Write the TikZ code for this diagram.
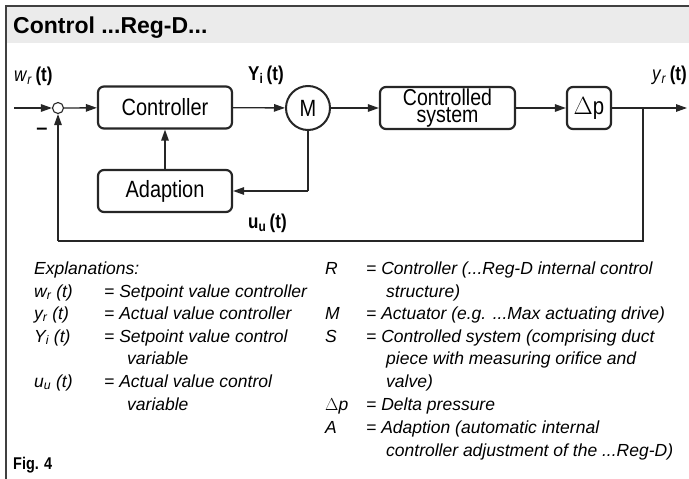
\documentclass[tikz,border=0pt]{standalone}
\usepackage{fontspec}
\setmainfont{Liberation Sans}
\newfontfamily\narrowf[FakeStretch=0.85]{Liberation Sans}
\usetikzlibrary{arrows.meta}
\begin{document}
\begin{tikzpicture}[x=1pt,y=-1pt,
  blk/.style={draw=black!85, line width=2.2pt, rounded corners=6pt, minimum height=42pt, inner sep=0pt, align=center, font=\narrowf\fontsize{23.5}{18}\selectfont},
  conn/.style={draw=black!85, line width=1.3pt},
  arr/.style={conn, -{Triangle[length=11pt,width=7.5pt]}},
  lbl/.style={anchor=base west, inner sep=0pt, font=\narrowf\fontsize{20}{20}\selectfont},
  expl/.style={anchor=base west, inner sep=0pt, font=\fontsize{17.5}{17.5}\selectfont\itshape}]
\useasboundingbox (0,0) rectangle (689,479);
% header and frame
\fill[black!8] (7,7) rectangle (689,43);
\draw[black!75, line width=1.8pt] (6,479) -- (6,6) -- (689,6);
\node[anchor=base west, inner sep=0pt, font=\fontsize{23}{23}\selectfont\bfseries] (title) at (13,33) {Control ...Reg-D...};
% blocks
\coordinate (in) at (14,108);
\node[circle, draw=black!85, line width=1.1pt, fill=white, minimum size=11pt, inner sep=0pt] (sum) at (58,108) {};
\node[blk, minimum width=134pt] (ctrl) at (165,107.5) {Controller};
\node[circle, draw=black!85, line width=2pt, minimum size=44pt, inner sep=0pt, font=\narrowf\fontsize{23.5}{23.5}\selectfont] (M) at (308,108) {M};
\node[blk, minimum width=135pt, font=\narrowf\fontsize{23}{16.5}\selectfont] (cs) at (447.5,108) {Controlled\\system};
\node[blk, minimum width=44pt, font=\narrowf\fontsize{24}{24}\selectfont] (dp) at (589,108) {$\Delta$p};
\node[blk, minimum width=134pt] (ad) at (165,191) {Adaption};
\coordinate (out) at (687,108);
\coordinate (br) at (643,108);
\coordinate (fbr) at (643,241);
\coordinate (fbl) at (58,241);
\coordinate (mturn) at (308,191);
% connectors
\draw[arr] (in) -- (sum);
\draw[arr] (sum) -- (ctrl);
\draw[arr] (ctrl) -- (M);
\draw[arr] (M) -- (cs);
\draw[arr] (cs) -- (dp);
\draw[arr] (dp) -- (out);
\draw[conn] (br) -- (fbr) -- (fbl);
\draw[arr] (fbl) -- (sum);
\draw[arr] (ad) -- (ctrl);
\draw[conn] (M) -- (mturn);
\draw[arr] (mturn) -- (ad);
% labels
\node[lbl] (lw) at (14,81) {\textit{w}\textsubscript{\textit{r}}\,\textbf{(t)}};
\node[lbl] (ly) at (248,80) {\textbf{Y\textsubscript{i}\,(t)}};
\node[lbl] (lu) at (248,228) {\textbf{u\textsubscript{u}\,(t)}};
\node[lbl] (lyr) at (652,80) {\textit{y}\textsubscript{\textit{r}}\,\textbf{(t)}};
\node[anchor=center, inner sep=0pt, font=\fontsize{20}{20}\selectfont\bfseries] (minus) at (42,131) {–};
% explanations left
\node[expl] (e0) at (34,274) {Explanations:};
\node[expl] (e1a) at (34,297) {w\textsubscript{r} (t)};
\node[expl] (e1b) at (104,297) {= Setpoint value controller};
\node[expl] (e2a) at (34,319) {y\textsubscript{r} (t)};
\node[expl] (e2b) at (104,319) {= Actual value controller};
\node[expl] (e3a) at (34,342) {Y\textsubscript{i} (t)};
\node[expl] (e3b) at (104,342) {= Setpoint value control};
\node[expl] (e3c) at (127,364) {variable};
\node[expl] (e4a) at (34,387) {u\textsubscript{u} (t)};
\node[expl] (e4b) at (104,387) {= Actual value control};
\node[expl] (e4c) at (127,410) {variable};
% explanations right
\node[expl] (r1a) at (325,274) {R};
\node[expl] (r1b) at (366,274) {= Controller (...Reg-D internal control};
\node[expl] (r1c) at (386,297) {structure)};
\node[expl] (r2a) at (325,319) {M};
\node[expl] (r2b) at (366,319) {= Actuator (e.g. ...Max actuating drive)};
\node[expl] (r3a) at (325,342) {S};
\node[expl] (r3b) at (366,342) {= Controlled system (comprising duct};
\node[expl] (r3c) at (386,364) {piece with measuring orifice and};
\node[expl] (r3d) at (386,387) {valve)};
\node[expl] (r4a) at (325,410) {{\upshape$\Delta$}p};
\node[expl] (r4b) at (366,410) {= Delta pressure};
\node[expl] (r5a) at (325,433) {A};
\node[expl] (r5b) at (366,433) {= Adaption (automatic internal};
\node[expl] (r5c) at (386,456) {controller adjustment of the ...Reg-D)};
\node[anchor=base west, inner sep=0pt, font=\narrowf\fontsize{17}{17}\selectfont\bfseries] (fig) at (13,469) {Fig. 4};
\end{tikzpicture}
\end{document}
